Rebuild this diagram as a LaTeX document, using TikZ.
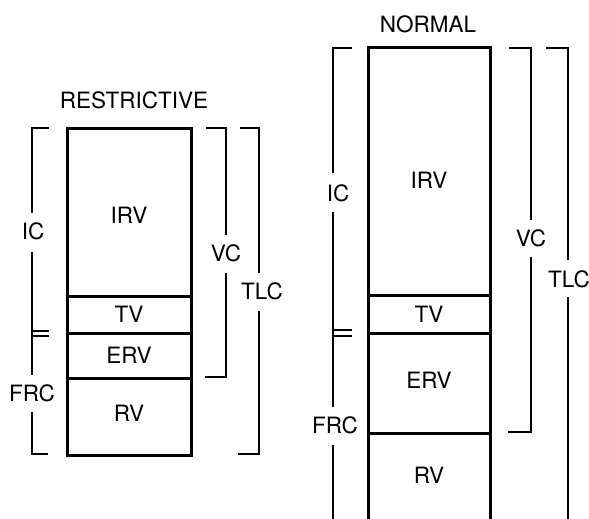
\documentclass[tikz,border=0pt]{standalone}
\usepackage{fontspec}
\setmainfont{TeX Gyre Heros}
\tikzset{
  lungbox/.style={line width=3pt},
  brack/.style={line width=2.6pt},
  vollabel/.style={font=\fontsize{22.5}{26}\selectfont, inner sep=1pt},
  titlelabel/.style={font=\fontsize{22.5}{26}\selectfont, inner sep=1pt}
}
\begin{document}
\begin{tikzpicture}[x=1pt,y=-1pt]
  \useasboundingbox (0,0) rectangle (589,519);
  \clip (0,0) rectangle (589,519);
  % restrictive
  \node[titlelabel] (restr) at (134,100) {RESTRICTIVE};
  \draw[lungbox] (67,128) rectangle (191,455);
  \foreach \yy in {296,333,378}
    \draw[lungbox] (67,\yy) -- (191,\yy);
  \node[vollabel] (rIRV) at (129,215) {IRV};
  \node[vollabel] (rTV) at (129,314) {TV};
  \node[vollabel] (rERV) at (129,355) {ERV};
  \node[vollabel] (rRV) at (129,413) {RV};
  % IC / FRC
  \node[vollabel] (rIC) at (33,231) {IC};
  \node[vollabel] (rFRC) at (32,393) {FRC};
  \draw[brack] (49,128) -- (32,128) -- (32,213);
  \draw[brack] (32,252) -- (32,375);
  \draw[brack] (32,412) -- (32,454) -- (48,454);
  \draw[brack] (32,331) -- (49,331) (32,336) -- (49,336);
  % VC
  \node[vollabel] (rVC) at (226,253) {VC};
  \draw[brack] (206,128) -- (226,128) -- (226,235);
  \draw[brack] (226,273) -- (226,377) -- (205,377);
  % TLC
  \node[vollabel] (rTLC) at (262,291) {TLC};
  \draw[brack] (240,128) -- (259,128) -- (259,273);
  \draw[brack] (259,311) -- (259,454) -- (238,454);
  % normal
  \node[titlelabel] (norm) at (428,24) {NORMAL};
  \draw[lungbox] (368,540) -- (368,48) -- (490,48) -- (490,540);
  \foreach \yy in {295,333,433}
    \draw[lungbox] (368,\yy) -- (490,\yy);
  \node[vollabel] (nIRV) at (429,180) {IRV};
  \node[vollabel] (nTV) at (429,314) {TV};
  \node[vollabel] (nERV) at (429,380) {ERV};
  \node[vollabel] (nRV) at (429,475) {RV};
  % IC / FRC
  \node[vollabel] (nIC) at (338,193) {IC};
  \node[vollabel] (nFRC) at (335,425) {FRC};
  \draw[brack] (352,48) -- (333,48) -- (333,173);
  \draw[brack] (333,212) -- (333,407);
  \draw[brack] (333,445) -- (333,540);
  \draw[brack] (333,330) -- (352,330) (333,336) -- (352,336);
  % VC
  \node[vollabel] (nVC) at (531,238) {VC};
  \draw[brack] (509,48) -- (531,48) -- (531,220);
  \draw[brack] (531,257) -- (531,432) -- (508,432);
  % TLC
  \node[vollabel] (nTLC) at (569,279) {TLC};
  \draw[brack] (546,48) -- (568,48) -- (568,260);
  \draw[brack] (568,297) -- (568,540);
\end{tikzpicture}
\end{document}
